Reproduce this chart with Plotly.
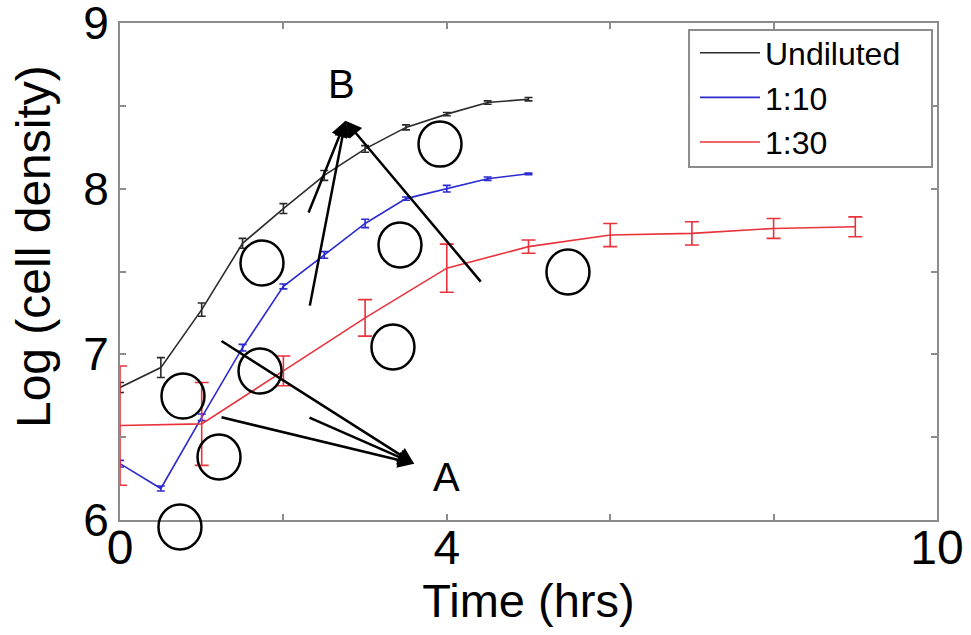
import plotly.graph_objects as go

# ---------------- data ----------------
time_half = [0, 0.5, 1, 1.5, 2, 2.5, 3, 3.5, 4, 4.5, 5]
undiluted = [6.80, 6.92, 7.27, 7.67, 7.88, 8.08, 8.24, 8.37, 8.45, 8.52, 8.54]
undiluted_err = [0.03, 0.06, 0.04, 0.03, 0.03, 0.03, 0.02, 0.015, 0.01, 0.01, 0.01]

dil10 = [6.34, 6.19, 6.62, 7.04, 7.41, 7.60, 7.79, 7.94, 8.00, 8.06, 8.09]
dil10_err = [0.02, 0.015, 0.02, 0.02, 0.015, 0.02, 0.025, 0.01, 0.02, 0.01, 0.005]

time_hour = [0, 1, 2, 3, 4, 5, 6, 7, 8, 9]
dil30 = [6.57, 6.58, 6.90, 7.22, 7.52, 7.65, 7.72, 7.73, 7.76, 7.77]
dil30_err = [0.36, 0.25, 0.09, 0.11, 0.145, 0.04, 0.07, 0.07, 0.06, 0.06]

x_tickvals = [0, 2, 4, 6, 8, 10]
x_ticktext = ["0", "", "4", "", "", "10"]
y_tickvals = [6, 6.5, 7, 7.5, 8, 8.5, 9]
y_ticktext = ["6", "", "7", "", "8", "", "9"]

# overlay annotation marks (data units)
circles = [(3.917, 8.269), (1.738, 7.551), (3.427, 7.660), (5.483, 7.497),
           (3.341, 7.044), (1.714, 6.899), (0.771, 6.748), (1.212, 6.380),
           (0.734, 5.958)]
arrow_B_tip = (2.76, 8.41)
arrow_B_tails = [(2.301, 7.847), (2.32, 7.285), (4.431, 7.430)]
arrow_A_tip = (3.60, 6.34)
arrow_A_tails = [(1.224, 7.086), (1.224, 6.622), (2.301, 6.622)]
label_B = (2.705, 8.631)
label_A = (4.002, 6.26)

X_RANGE = [0, 10]
Y_RANGE = [6, 9]

FONT = "Arial, 'Liberation Sans', sans-serif"
BLACK = "#2b2b2b"
BLUE = "#2b2bd0"
RED = "#e8323c"
AXIS = "#8c8c8c"

fig = go.Figure()


def add_series(x, y, err, color, name, cap):
    fig.add_trace(go.Scatter(
        x=x, y=y, name=name, mode="lines",
        line=dict(color=color, width=1.6),
        error_y=dict(type="data", array=err, visible=True, color=color,
                     thickness=1.6, width=cap),
    ))


add_series(time_half, undiluted, undiluted_err, BLACK, "Undiluted", 4)
add_series(time_half, dil10, dil10_err, BLUE, "1:10", 4)
add_series(time_hour, dil30, dil30_err, RED, "1:30", 7)


def to_paper(t, v):
    return ((t - X_RANGE[0]) / (X_RANGE[1] - X_RANGE[0]),
            (v - Y_RANGE[0]) / (Y_RANGE[1] - Y_RANGE[0]))


shapes = []
for (t, v) in circles:
    px, py = to_paper(t, v)
    shapes.append(dict(type="circle", xref="paper", yref="paper",
                       xsizemode="pixel", ysizemode="pixel",
                       xanchor=px, yanchor=py,
                       x0=-21.5, x1=21.5, y0=-22.5, y1=22.5,
                       line=dict(color="black", width=2.5),
                       fillcolor="rgba(0,0,0,0)"))
# legend frame
shapes.append(dict(type="rect", xref="paper", yref="paper",
                   x0=0.6965, x1=0.9939, y0=0.7103, y1=0.9859,
                   line=dict(color=AXIS, width=2), fillcolor="rgba(0,0,0,0)",
                   layer="above"))

annotations = []
for tip, tails in ((arrow_B_tip, arrow_B_tails), (arrow_A_tip, arrow_A_tails)):
    for (tx, ty) in tails:
        annotations.append(dict(x=tip[0], y=tip[1], ax=tx, ay=ty,
                                xref="x", yref="y", axref="x", ayref="y",
                                showarrow=True, arrowhead=2, arrowsize=1.3,
                                arrowwidth=2.5, arrowcolor="black", text=""))
for txt, (tx, ty) in (("B", label_B), ("A", label_A)):
    annotations.append(dict(x=tx, y=ty, xref="x", yref="y", text=txt,
                            showarrow=False,
                            font=dict(size=40, color="black", family=FONT)))
# y-axis title
annotations.append(dict(x=-0.106, y=0.55, xref="paper", yref="paper",
                        text="Log (cell density)", textangle=-90,
                        showarrow=False, xanchor="center", yanchor="middle",
                        font=dict(size=48, color="black", family=FONT)))

fig.update_layout(
    width=971, height=635,
    margin=dict(l=120, r=34, t=23, b=115, autoexpand=False),
    paper_bgcolor="white", plot_bgcolor="white",
    font=dict(family=FONT, color="black"),
    shapes=shapes, annotations=annotations,
    legend=dict(x=0.7038, y=0.995, xanchor="left", yanchor="top",
                bgcolor="rgba(255,255,255,0)", borderwidth=0,
                font=dict(size=32, family=FONT, color="black"),
                itemwidth=60, tracegroupgap=0),
    xaxis=dict(range=X_RANGE, tickvals=x_tickvals, ticktext=x_ticktext,
               showgrid=False, zeroline=False, showline=True, linecolor=AXIS,
               linewidth=2, mirror="ticks", ticks="inside", ticklen=6,
               tickcolor=AXIS, tickwidth=1.5, ticklabeloverflow="allow",
               ticklabelstandoff=-16, automargin=False,
               tickfont=dict(size=48, family=FONT, color="black"),
               title=dict(text="Time (hrs)", standoff=0,
                          font=dict(size=47, family=FONT, color="black"))),
    yaxis=dict(range=Y_RANGE, tickvals=y_tickvals, ticktext=y_ticktext,
               showgrid=False, zeroline=False, showline=True, linecolor=AXIS,
               linewidth=2, mirror="ticks", ticks="inside", ticklen=6,
               tickcolor=AXIS, tickwidth=1.5, ticklabeloverflow="allow",
               automargin=False,
               tickfont=dict(size=46, family=FONT, color="black")),
)

fig.write_html("out.html")
